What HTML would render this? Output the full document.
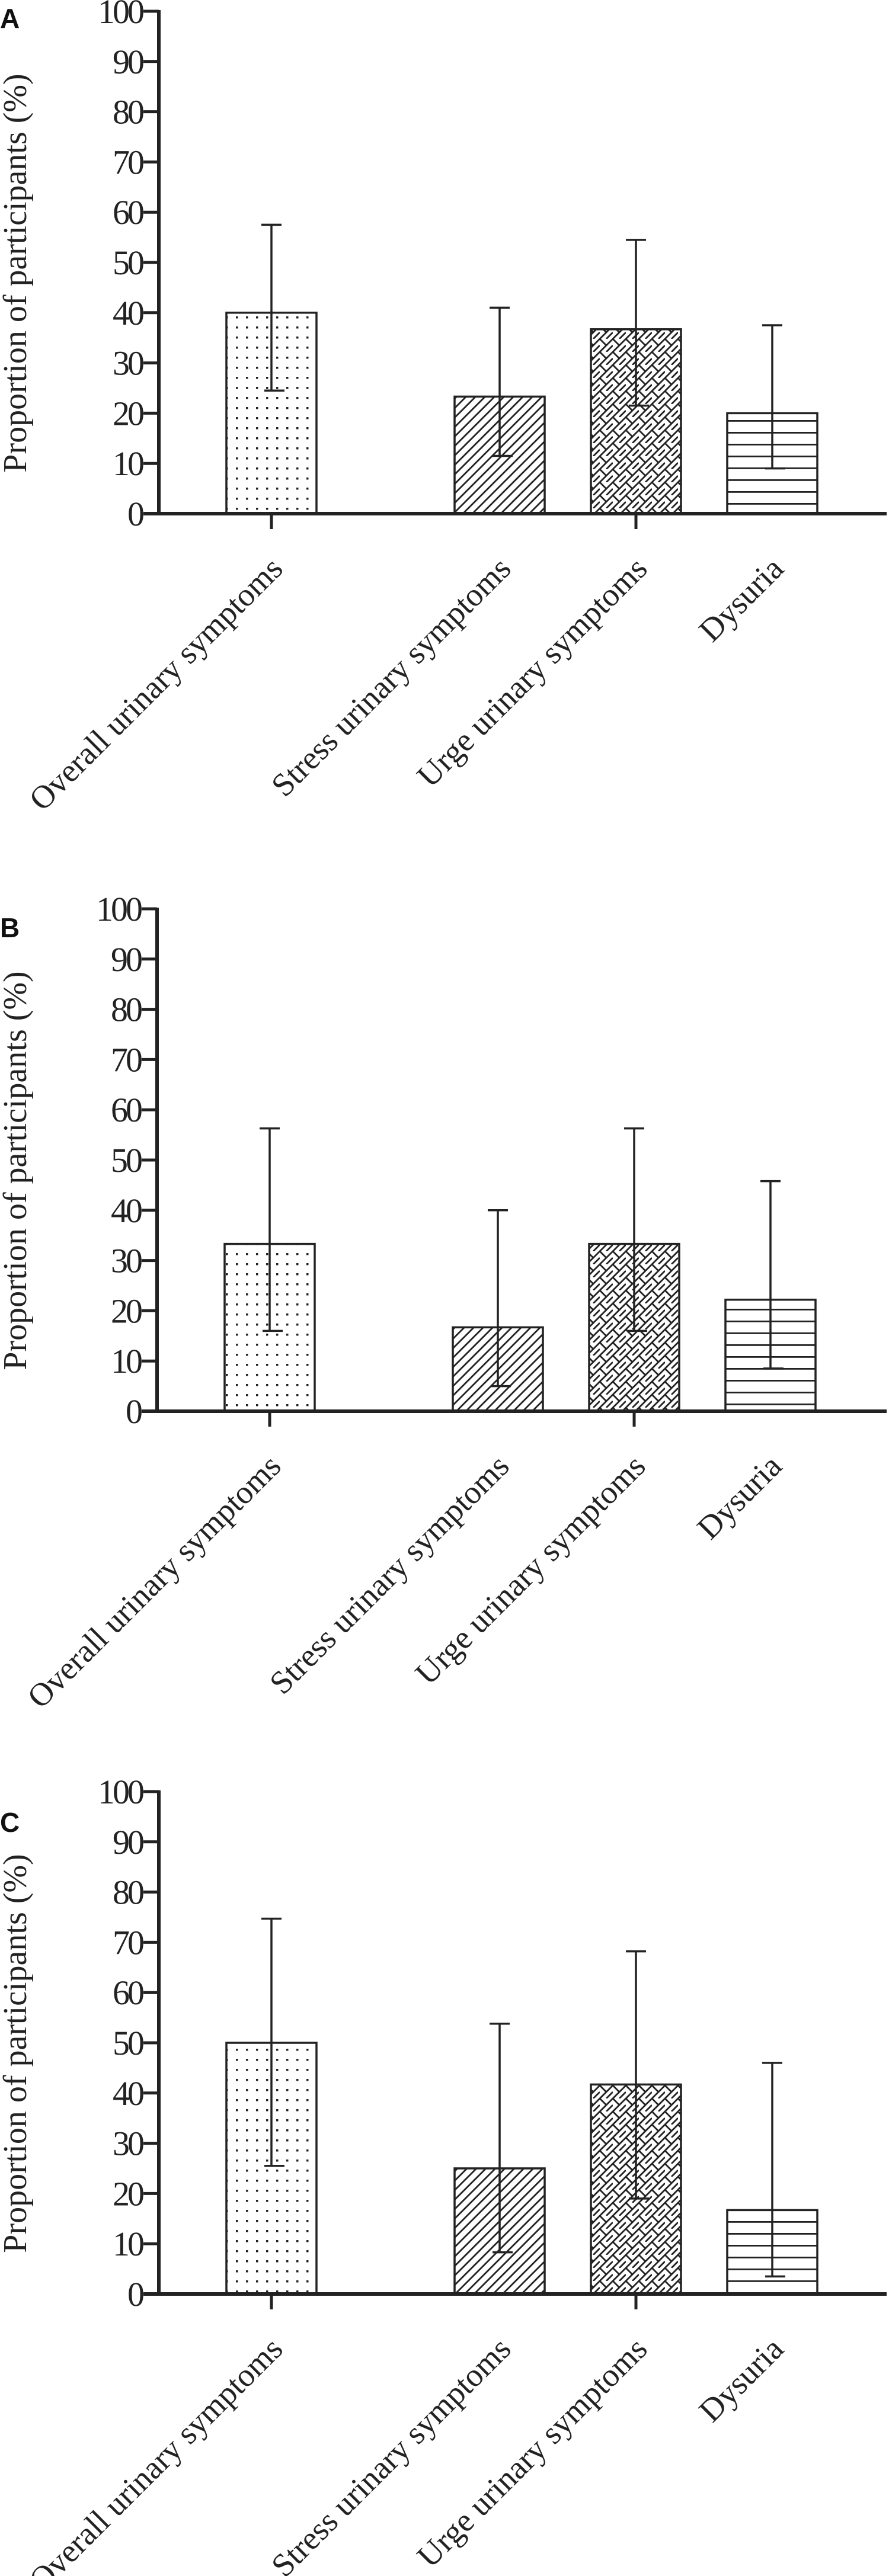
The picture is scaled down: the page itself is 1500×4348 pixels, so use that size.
<!DOCTYPE html>
<html><head><meta charset="utf-8"><style>
html,body{margin:0;padding:0;background:#fff}
svg{display:block}
</style></head><body>
<svg id="fig" width="1500" height="4348" viewBox="0 0 1500 4348" xmlns="http://www.w3.org/2000/svg">
<defs>
<pattern id="pDots" width="17" height="17" patternUnits="userSpaceOnUse"><rect width="17" height="17" fill="#fff"/><rect x="7" y="7" width="3.5" height="3.5" fill="#222"/></pattern>
<pattern id="pDiag" width="16" height="16" patternUnits="userSpaceOnUse"><rect width="16" height="16" fill="#fff"/><path d="M-4,4 L4,-4 M0,16 L16,0 M12,20 L20,12" stroke="#222" stroke-width="2.8"/></pattern>
<pattern id="pCross" width="22" height="22" patternUnits="userSpaceOnUse"><rect width="22" height="22" fill="#fff"/><path d="M0,22 L22,0 M-5,5 L5,-5 M17,27 L27,17 M0,0 L11,11 M11,22 L22,11" stroke="#222" stroke-width="2.8"/></pattern>
<pattern id="pHoriz" width="20" height="20" patternUnits="userSpaceOnUse"><rect width="20" height="20" fill="#fff"/><rect x="0" y="9" width="20" height="2.8" fill="#222"/></pattern>
</defs>
</svg>
<script>
const categories = ["Overall urinary symptoms","Stress urinary symptoms","Urge urinary symptoms","Dysuria"];
const yTicks = [0,10,20,30,40,50,60,70,80,90,100];
const panelLabels = ["A","B","C"];
const valuesA = [40, 23.3, 36.7, 20];
const lowA = [24.5, 11.5, 21.5, 9];
const highA = [57.5, 41, 54.5, 37.5];
const valuesB = [33.3, 16.7, 33.3, 22.2];
const lowB = [16, 5, 16, 8.5];
const highB = [56.3, 40, 56.3, 45.8];
const valuesC = [50, 25, 41.7, 16.7];
const lowC = [25.5, 8.3, 19, 3.5];
const highC = [74.7, 53.8, 68.2, 46];

const NS = "http://www.w3.org/2000/svg";
const svg = document.getElementById('fig');
const fills = ["url(#pDots)","url(#pDiag)","url(#pCross)","url(#pHoriz)"];
const slotIndex = [0, 1.674, 2.674, 3.674]; // layout: gap after first category
const panelTops = [19, 1534, 3024];
const panelAxisX = [268, 265, 268];
const plotH = 848;
function mk(tag, attrs, parent){const e=document.createElementNS(NS,tag);for(const k in attrs)e.setAttribute(k,attrs[k]);(parent||svg).appendChild(e);return e;}

const panelsData = [[valuesA,lowA,highA],[valuesB,lowB,highB],[valuesC,lowC,highC]];
panelsData.forEach((pd, p) => {
  const top = panelTops[p], base = top + plotH, ax = panelAxisX[p];
  const dx = ax - 268;
  const y = v => base - v / 100 * plotH;
  const xc = i => 458 + dx + slotIndex[i] * 230;
  const g = mk('g', {});
  
  
  const lab = mk('text', {x: 0, y: top + 28 + (p===0?0:(p===1?20:40)), 'font-family': '"Liberation Sans", sans-serif', 'font-weight': 'bold', 'font-size': 46, fill: '#111'}, g);
  
  
  lab.textContent = panelLabels[p];
  const yt = mk('text', {x: 0, y: 0, transform: `translate(${44},${top + 442}) rotate(-90)`, 'text-anchor': 'middle', 'font-family': '"Liberation Serif", serif', 'font-size': 56, fill: '#222'}, g);
  
  
  yt.textContent = 'Proportion of participants (%)';
  pd[0].forEach((v, i) => {
    const c = xc(i);
    const r = mk('rect', {x: c - 76, y: y(v), width: 152, height: base - y(v), fill: fills[i], stroke: '#222', 'stroke-width': 3.5}, g);
    
    
    const e = mk('path', {d: `M${c},${y(pd[1][i])} L${c},${y(pd[2][i])} M${c-17},${y(pd[2][i])} L${c+17},${y(pd[2][i])} M${c-12},${y(pd[1][i])} L${c+22},${y(pd[1][i])}`, stroke: '#222', 'stroke-width': 3.5, fill: 'none'}, g);
    
    
    const t = mk('text', {x: 0, y: 0, transform: `translate(${c + 22},${base + 96}) rotate(-45)`, 'text-anchor': 'end', 'font-family': '"Liberation Serif", serif', 'font-size': 55, fill: '#222'}, g);
    
    
    t.textContent = categories[i];
  });
  const ya = mk('line', {x1: ax, y1: top - 2, x2: ax, y2: base + 3, stroke: '#222', 'stroke-width': 6}, g);
  
  
  const xa = mk('line', {x1: ax - 26, y1: base, x2: 1496, y2: base, stroke: '#222', 'stroke-width': 6}, g);
  
  
  [0, 2].forEach(i => {
    const tk = mk('line', {x1: xc(i), y1: base, x2: xc(i), y2: base + 26, stroke: '#222', 'stroke-width': 5}, g);
    
    
  });
  yTicks.forEach(v => {
    const tk = mk('line', {x1: ax - 26, y1: y(v), x2: ax, y2: y(v), stroke: '#222', 'stroke-width': 5}, g);
    
    
    const tl = mk('text', {x: ax - 28, y: y(v) + 20, 'text-anchor': 'end', 'font-family': '"Liberation Serif", serif', 'font-size': 58, 'letter-spacing': -4, fill: '#222'}, g);
    
    
    tl.textContent = v;
  });
});
</script>
</body></html>
